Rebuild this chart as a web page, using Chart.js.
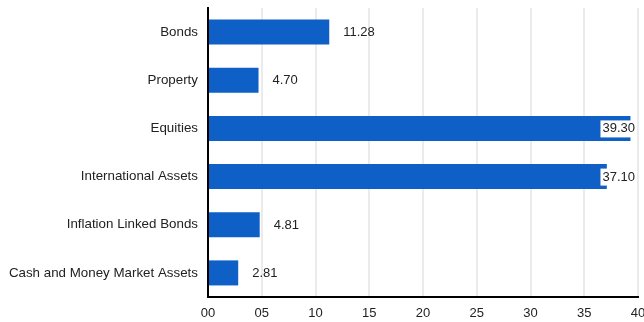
<!DOCTYPE html>
<html>
<head>
<meta charset="utf-8">
<script src="https://cdn.jsdelivr.net/npm/chart.js@4/dist/chart.umd.min.js"></script>
<style>
  html, body { margin: 0; padding: 0; background: #fff; overflow: hidden; }
  #wrap { width: 644px; height: 322px; }
</style>
</head>
<body>
<div id="wrap"><canvas id="myChart"></canvas></div>
<script>
const categories = ['Bonds', 'Property', 'Equities', 'International Assets', 'Inflation Linked Bonds', 'Cash and Money Market Assets'];
const values = [11.28, 4.70, 39.30, 37.10, 4.81, 2.81];
const tickLabels = ['00', '05', '10', '15', '20', '25', '30', '35', '40'];

Chart.defaults.font.family = '"Liberation Sans", Arial, sans-serif';
Chart.defaults.font.size = 13;
Chart.defaults.color = '#222';

// value labels to the right of each bar, pushed back inside when they hit the edge
const valueLabels = {
  id: 'valueLabels',
  afterDatasetsDraw(chart) {
    const ctx = chart.ctx;
    const area = chart.chartArea;
    const meta = chart.getDatasetMeta(0);
    ctx.save();
    ctx.font = '13px "Liberation Sans", Arial, sans-serif';
    ctx.textBaseline = 'middle';
    ctx.textAlign = 'left';
    meta.data.forEach((bar, i) => {
      const txt = values[i].toFixed(2);
      const w = ctx.measureText(txt).width;
      let x = bar.x + 14;
      if (x + w > area.right - 3) {
        x = area.right - 3 - w;
        ctx.fillStyle = '#fff';
        ctx.fillRect(x - 2, bar.y - 8, w + 4, 17);
      }
      ctx.fillStyle = '#222';
      ctx.fillText(txt, x, bar.y + 0.5);
    });
    ctx.restore();
  }
};

new Chart(document.getElementById('myChart'), {
  type: 'bar',
  data: {
    labels: categories,
    datasets: [{
      data: values,
      backgroundColor: '#0e5fc6',
      categoryPercentage: 1,
      barPercentage: 0.52
    }]
  },
  options: {
    indexAxis: 'y',
    responsive: true,
    maintainAspectRatio: false,
    animation: false,
    layout: { padding: { top: 8, right: 6, left: 0, bottom: 0 } },
    plugins: { legend: { display: false }, tooltip: { enabled: false } },
    scales: {
      x: {
        min: 0,
        max: 40,
        ticks: {
          stepSize: 5,
          padding: 9,
          callback: (v, i) => tickLabels[i]
        },
        grid: { color: '#ebebeb', lineWidth: 2, drawTicks: false },
        border: { color: '#000', width: 2 },
        afterFit(scale) { scale.paddingRight = 0; scale.height = 25; }
      },
      y: {
        ticks: { padding: 10, font: { size: 13.35 } },
        grid: { display: false, drawTicks: false },
        border: { color: '#000', width: 2 },
        afterFit(scale) { scale.width = 208; scale.paddingTop = 0; scale.paddingBottom = 0; }
      }
    }
  },
  plugins: [valueLabels]
});
</script>
</body>
</html>
